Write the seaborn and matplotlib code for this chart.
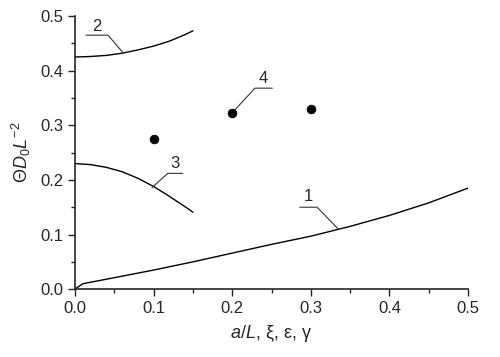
import numpy as np
import pandas as pd
import matplotlib
matplotlib.use("Agg")
import matplotlib.pyplot as plt
import seaborn as sns

# curve 1
x1 = [0.0, 0.01, 0.05, 0.1, 0.15, 0.2, 0.25, 0.3, 0.35, 0.4, 0.45, 0.5]
y1 = [0.0, 0.010, 0.021, 0.035, 0.050, 0.066, 0.082, 0.097, 0.115, 0.135, 0.158, 0.185]
# curve 2
x2 = [0.0, 0.02, 0.04, 0.06, 0.08, 0.1, 0.12, 0.14, 0.15]
y2 = [0.425, 0.426, 0.428, 0.432, 0.438, 0.445, 0.454, 0.466, 0.473]
# curve 3
x3 = [0.0, 0.02, 0.04, 0.06, 0.08, 0.1, 0.12, 0.14, 0.15]
y3 = [0.230, 0.228, 0.223, 0.215, 0.203, 0.188, 0.170, 0.151, 0.141]
# points 4
x4 = [0.1, 0.2, 0.3]
y4 = [0.275, 0.323, 0.330]

# leader lines: label, text pos, (end of bar, elbow, target)
labels = ["1", "2", "3", "4"]
label_pos = [(0.297, 0.156), (0.028, 0.467), (0.127, 0.216), (0.240, 0.372)]
leaders = [
    [(0.286, 0.150), (0.308, 0.150), (0.335, 0.110)],
    [(0.014, 0.465), (0.042, 0.465), (0.061, 0.433)],
    [(0.137, 0.212), (0.118, 0.212), (0.098, 0.186)],
    [(0.251, 0.368), (0.229, 0.368), (0.200, 0.323)],
]

sns.set_style("ticks")
plt.rcParams["font.family"] = ["Liberation Sans", "DejaVu Sans"]
plt.rcParams["mathtext.fontset"] = "custom"
plt.rcParams["mathtext.rm"] = "Liberation Sans"
plt.rcParams["mathtext.it"] = "Liberation Sans:italic"

fig = plt.figure(figsize=(5, 3.57), dpi=100)
ax = fig.add_axes([0.15, 0.19, 0.786, 0.765])

for xs, ys in [(x1, y1), (x2, y2), (x3, y3)]:
    df = pd.DataFrame({"x": xs, "y": ys})
    sns.lineplot(data=df, x="x", y="y", ax=ax, color="black", linewidth=1.0, sort=False)

pts = pd.DataFrame({"x": x4, "y": y4})
sns.scatterplot(data=pts, x="x", y="y", ax=ax, color="black", s=40, edgecolor="black", zorder=3)

for lab, pos, seg in zip(labels, label_pos, leaders):
    sx = [p[0] for p in seg]
    sy = [p[1] for p in seg]
    ax.plot(sx, sy, color="#333333", linewidth=0.8)
    ax.text(pos[0], pos[1], lab, fontsize=12, ha="center", va="bottom")

ax.set_xlim(0, 0.5)
ax.set_ylim(0, 0.5)
ax.set_xticks(np.arange(0, 0.51, 0.1))
ax.set_yticks(np.arange(0, 0.51, 0.1))
ax.set_xticks(np.arange(0.05, 0.5, 0.1), minor=True)
ax.set_yticks(np.arange(0.05, 0.5, 0.1), minor=True)
ax.xaxis.set_major_formatter(matplotlib.ticker.FormatStrFormatter("%.1f"))
ax.yaxis.set_major_formatter(matplotlib.ticker.FormatStrFormatter("%.1f"))
ax.tick_params(which="major", length=5, width=1, labelsize=12)
ax.tick_params(which="minor", length=3, width=1)
sns.despine(ax=ax)
for s in ["left", "bottom"]:
    ax.spines[s].set_linewidth(1.2)

ax.set_xlabel(r"$a/L$, ξ, ε, γ", fontsize=13, labelpad=5)
ax.set_ylabel(r"$\Theta D_0 L^{-2}$", fontsize=13, labelpad=5)

fig.savefig("out.png", dpi=100)
